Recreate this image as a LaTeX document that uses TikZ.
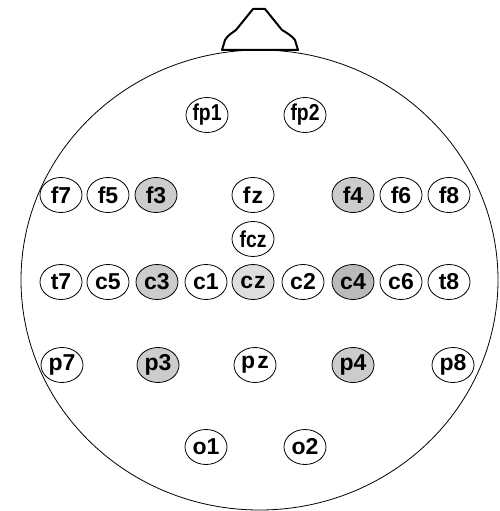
\documentclass[tikz,border=0pt]{standalone}
\usepackage{fontspec}
\usepackage{graphicx}
\setmainfont{Liberation Sans}
\usetikzlibrary{shapes.geometric}
\newcommand\ElecTxt[1]{\makebox[0pt]{#1}}
\newcommand\ElecNarrow[1]{\makebox[0pt]{\scalebox{0.84}[1]{#1}}}
\begin{document}
\begin{tikzpicture}[x=1pt,y=-1pt,
  elec/.style={ellipse,draw,line width=0.8pt,minimum width=42pt,minimum height=35pt,inner sep=0pt,fill=white,font=\fontsize{23}{23}\selectfont\bfseries},
  shaded/.style={elec,fill=black!20},
  lightshaded/.style={elec,fill=black!13},
  darkshaded/.style={elec,fill=black!27},
  headline/.style={line width=0.8pt},
  noseline/.style={line width=2pt,line join=round}]
\useasboundingbox (0,0) rectangle (499,511);
\fill[white] (0,0) rectangle (499,511);
\draw[headline] (259.5,280) ellipse [x radius=238.5, y radius=230];
\draw[noseline] (222,50) -- (225,40) .. controls (228,35) and (232,33) .. (236,30) -- (253,9) -- (265,9) -- (282,30) .. controls (287,33) and (292,36) .. (295,40) -- (298,50) -- cycle;
% electrodes
\node[elec] (fp1) at (207,115) {\ElecNarrow{fp1}};
\node[elec] (fp2) at (305,115) {\ElecNarrow{fp2}};
\node[elec] (f7) at (61,195) {\ElecTxt{f7}};
\node[elec] (f5) at (108,195) {\ElecTxt{f5}};
\node[shaded] (f3) at (156,195) {\ElecTxt{f3}};
\node[elec] (fz) at (253,195) {\ElecTxt{f\kern1pt z}};
\node[shaded] (f4) at (353,195) {\ElecTxt{f4}};
\node[elec] (f6) at (401,195) {\ElecTxt{f6}};
\node[elec] (f8) at (449,195) {\ElecTxt{f8}};
\node[elec] (fcz) at (253,239) {\ElecNarrow{fcz}};
\node[elec] (t7) at (61,282) {\ElecTxt{t7}};
\node[elec] (c5) at (108,282) {\ElecTxt{c5}};
\node[shaded] (c3) at (157,282) {\ElecTxt{c3}};
\node[elec] (c1) at (206,282) {\ElecTxt{c1}};
\node[lightshaded] (cz) at (253,282) {\ElecTxt{c\kern1pt z}};
\node[elec] (c2) at (303,282) {\ElecTxt{c2}};
\node[darkshaded] (c4) at (353,282) {\ElecTxt{c4}};
\node[elec] (c6) at (401,282) {\ElecTxt{c6}};
\node[elec] (t8) at (449,282) {\ElecTxt{t8}};
\node[elec] (p7) at (62,365) {\ElecTxt{p7}};
\node[shaded] (p3) at (158,365) {\ElecTxt{p3}};
\node[elec] (pz) at (255,365) {\ElecTxt{p\kern2pt z}};
\node[shaded] (p4) at (353,365) {\ElecTxt{p4}};
\node[elec] (p8) at (453,365) {\ElecTxt{p8}};
\node[elec] (o1) at (206,447) {\ElecTxt{o1}};
\node[elec] (o2) at (305,447) {\ElecTxt{o2}};
\end{tikzpicture}
\end{document}
